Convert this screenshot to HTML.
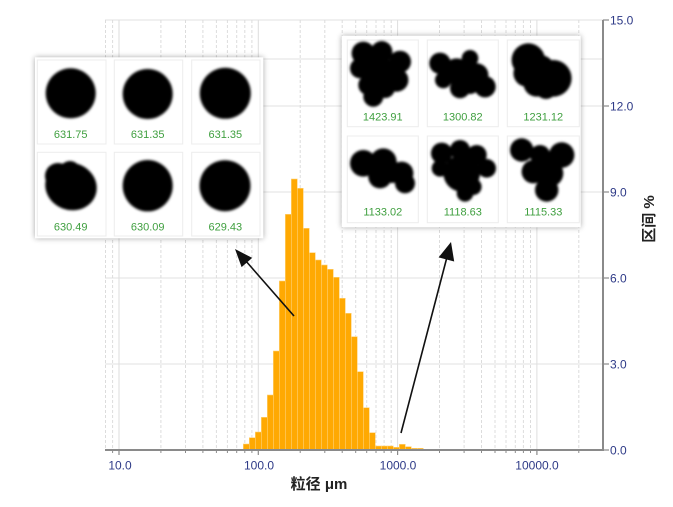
<!DOCTYPE html>
<html><head><meta charset="utf-8"><style>
html,body{margin:0;padding:0;background:#fff;}
svg{display:block;}
text{font-family:"Liberation Sans","Noto Sans CJK SC",sans-serif;}
</style></head><body>
<svg width="673" height="507" viewBox="0 0 673 507" xmlns="http://www.w3.org/2000/svg">
<defs>
<filter id="bl" x="-20%" y="-20%" width="140%" height="140%"><feGaussianBlur stdDeviation="1.2"/></filter>
<filter id="sh" x="-10%" y="-10%" width="120%" height="120%"><feGaussianBlur stdDeviation="3"/></filter>
</defs>
<rect width="673" height="507" fill="#fff"/>
<!-- horizontal grid -->
<g stroke="#e2e2e2" stroke-width="1">
<line x1="105" y1="20" x2="603" y2="20"/>
<line x1="105" y1="59" x2="603" y2="59"/>
<line x1="105" y1="106" x2="603" y2="106"/>
<line x1="105" y1="192" x2="603" y2="192"/>
<line x1="105" y1="278" x2="603" y2="278"/>
<line x1="105" y1="364" x2="603" y2="364"/>
</g>
<!-- vertical dashed minors -->
<g stroke="#dcdcdc" stroke-width="1" stroke-dasharray="3,2">
<line x1="105.5" y1="20" x2="105.5" y2="450"/><line x1="112.6" y1="20" x2="112.6" y2="450"/>
<line x1="160.9" y1="20" x2="160.9" y2="450"/><line x1="185.5" y1="20" x2="185.5" y2="450"/><line x1="202.9" y1="20" x2="202.9" y2="450"/><line x1="216.4" y1="20" x2="216.4" y2="450"/><line x1="227.4" y1="20" x2="227.4" y2="450"/><line x1="236.7" y1="20" x2="236.7" y2="450"/><line x1="244.8" y1="20" x2="244.8" y2="450"/><line x1="251.9" y1="20" x2="251.9" y2="450"/>
<line x1="300.2" y1="20" x2="300.2" y2="450"/><line x1="324.8" y1="20" x2="324.8" y2="450"/><line x1="342.2" y1="20" x2="342.2" y2="450"/><line x1="355.7" y1="20" x2="355.7" y2="450"/><line x1="366.7" y1="20" x2="366.7" y2="450"/><line x1="376.0" y1="20" x2="376.0" y2="450"/><line x1="384.1" y1="20" x2="384.1" y2="450"/><line x1="391.2" y1="20" x2="391.2" y2="450"/>
<line x1="439.5" y1="20" x2="439.5" y2="450"/><line x1="464.1" y1="20" x2="464.1" y2="450"/><line x1="481.5" y1="20" x2="481.5" y2="450"/><line x1="495.0" y1="20" x2="495.0" y2="450"/><line x1="506.0" y1="20" x2="506.0" y2="450"/><line x1="515.3" y1="20" x2="515.3" y2="450"/><line x1="523.4" y1="20" x2="523.4" y2="450"/><line x1="530.5" y1="20" x2="530.5" y2="450"/>
<line x1="578.8" y1="20" x2="578.8" y2="450"/>
</g>
<g stroke="#dedede" stroke-width="1">
<line x1="119" y1="20" x2="119" y2="450"/><line x1="258.3" y1="20" x2="258.3" y2="450"/><line x1="397.6" y1="20" x2="397.6" y2="450"/><line x1="536.9" y1="20" x2="536.9" y2="450"/>
</g>
<!-- bars -->
<g fill="#FFA902" stroke="#FFD27a" stroke-width="0.6">
<rect x="243.3" y="444" width="6" height="6"/>
<rect x="249.3" y="437.7" width="6" height="12.3"/>
<rect x="255.3" y="432" width="6" height="18"/>
<rect x="261.3" y="417.3" width="6" height="32.7"/>
<rect x="267.3" y="395" width="6" height="55"/>
<rect x="273.3" y="351" width="6" height="99"/>
<rect x="279.3" y="281" width="6" height="169"/>
<rect x="285.3" y="214.3" width="6" height="235.7"/>
<rect x="291.3" y="179" width="6" height="271"/>
<rect x="297.3" y="188.3" width="6" height="261.7"/>
<rect x="303.3" y="228.3" width="6" height="221.7"/>
<rect x="309.3" y="252.7" width="6" height="197.3"/>
<rect x="315.3" y="260" width="6" height="190"/>
<rect x="321.3" y="265" width="6" height="185"/>
<rect x="327.3" y="269.3" width="6" height="180.7"/>
<rect x="333.3" y="277.3" width="6" height="172.7"/>
<rect x="339.3" y="298.3" width="6" height="151.7"/>
<rect x="345.3" y="313.3" width="6" height="136.7"/>
<rect x="351.3" y="336.7" width="6" height="113.3"/>
<rect x="357.3" y="371.7" width="6" height="78.3"/>
<rect x="363.3" y="407.7" width="6" height="42.3"/>
<rect x="369.3" y="432.7" width="6" height="17.3"/>
<rect x="375.3" y="446" width="6" height="4"/>
<rect x="381.3" y="446" width="6" height="4"/>
<rect x="387.3" y="446" width="6" height="4"/>
<rect x="393.3" y="447.3" width="6" height="2.7"/>
<rect x="399.3" y="444.3" width="6" height="5.7"/>
<rect x="405.3" y="446.7" width="6" height="3.3"/>
<rect x="411.3" y="448.3" width="6" height="1.7"/>
<rect x="417.3" y="448.3" width="6" height="1.7"/>
</g>
<!-- axes -->
<line x1="105" y1="450" x2="603" y2="450" stroke="#8a8a8a" stroke-width="2"/>
<line x1="603" y1="20" x2="603" y2="451" stroke="#8a8a8a" stroke-width="2"/>
<g stroke="#8a8a8a" stroke-width="1.2">
<line x1="603" y1="20" x2="609" y2="20"/><line x1="603" y1="106" x2="609" y2="106"/><line x1="603" y1="192" x2="609" y2="192"/><line x1="603" y1="278" x2="609" y2="278"/><line x1="603" y1="364" x2="609" y2="364"/><line x1="603" y1="450" x2="609" y2="450"/>
<line x1="119" y1="450" x2="119" y2="455"/><line x1="258.3" y1="450" x2="258.3" y2="455"/><line x1="397.6" y1="450" x2="397.6" y2="455"/><line x1="536.9" y1="450" x2="536.9" y2="455"/>
</g>
<g stroke="#8a8a8a" stroke-width="1">
<line x1="112.6" y1="450" x2="112.6" y2="453"/>
<line x1="160.9" y1="450" x2="160.9" y2="453"/><line x1="185.5" y1="450" x2="185.5" y2="453"/><line x1="202.9" y1="450" x2="202.9" y2="453"/><line x1="216.4" y1="450" x2="216.4" y2="453"/><line x1="227.4" y1="450" x2="227.4" y2="453"/><line x1="236.7" y1="450" x2="236.7" y2="453"/><line x1="244.8" y1="450" x2="244.8" y2="453"/><line x1="251.9" y1="450" x2="251.9" y2="453"/>
<line x1="300.2" y1="450" x2="300.2" y2="453"/><line x1="324.8" y1="450" x2="324.8" y2="453"/><line x1="342.2" y1="450" x2="342.2" y2="453"/><line x1="355.7" y1="450" x2="355.7" y2="453"/><line x1="366.7" y1="450" x2="366.7" y2="453"/><line x1="376.0" y1="450" x2="376.0" y2="453"/><line x1="384.1" y1="450" x2="384.1" y2="453"/><line x1="391.2" y1="450" x2="391.2" y2="453"/>
<line x1="439.5" y1="450" x2="439.5" y2="453"/><line x1="464.1" y1="450" x2="464.1" y2="453"/><line x1="481.5" y1="450" x2="481.5" y2="453"/><line x1="495.0" y1="450" x2="495.0" y2="453"/><line x1="506.0" y1="450" x2="506.0" y2="453"/><line x1="515.3" y1="450" x2="515.3" y2="453"/><line x1="523.4" y1="450" x2="523.4" y2="453"/><line x1="530.5" y1="450" x2="530.5" y2="453"/>
<line x1="578.8" y1="450" x2="578.8" y2="453"/>
</g>
<!-- tick labels -->
<g fill="#2e3a87" font-size="12">
<text x="610" y="24.5">15.0</text>
<text x="610" y="110.5">12.0</text>
<text x="610" y="196.5">9.0</text>
<text x="610" y="282.5">6.0</text>
<text x="610" y="368.5">3.0</text>
<text x="610" y="454.5">0.0</text>
</g>
<g fill="#2e3a87" font-size="12" text-anchor="middle">
<text x="120" y="469.5">10.0</text>
<text x="259" y="469.5">100.0</text>
<text x="398" y="469.5">1000.0</text>
<text x="537" y="469.5">10000.0</text>
</g>
<text x="319" y="489" font-size="15" font-weight="bold" fill="#222" text-anchor="middle">粒径 μm</text>
<text transform="translate(654,219) rotate(-90)" font-size="15" font-weight="bold" fill="#222" text-anchor="middle">区间 %</text>
<!-- arrows -->
<g stroke="#111" stroke-width="1.6">
<line x1="294" y1="316" x2="245" y2="260"/>
<line x1="401" y1="433" x2="447" y2="257"/>
</g>
<g fill="#111">
<polygon points="235,249 252.2,257.9 241.6,267.1"/>
<polygon points="451,242 454.2,261.5 438.6,257.4"/>
</g>
<!-- inset 1 -->
<rect x="35" y="57.3" width="228.3" height="181" fill="#000" opacity="0.35" filter="url(#sh)"/>
<rect x="35" y="57.3" width="228.3" height="181" fill="#fff"/>
<g fill="#fff" stroke="#ececec" stroke-width="1">
<rect x="37.3" y="60" width="68.7" height="84"/><rect x="114.3" y="60" width="68.4" height="84"/><rect x="191.7" y="60" width="68.3" height="84"/>
<rect x="37.3" y="152.3" width="68.7" height="83.7"/><rect x="114.3" y="152.3" width="68.4" height="83.7"/><rect x="191.7" y="152.3" width="68.3" height="83.7"/>
</g>
<g fill="#000" filter="url(#bl)">
<circle cx="70.7" cy="93.3" r="25"/>
<circle cx="147.7" cy="94" r="25"/>
<circle cx="225.3" cy="93.3" r="25.5"/>
<ellipse cx="71" cy="186.5" rx="26" ry="23.5" transform="rotate(20 71 186.5)"/><circle cx="58" cy="176" r="13"/><circle cx="70" cy="171" r="10"/>
<ellipse cx="147.7" cy="185.7" rx="25" ry="25.7"/>
<circle cx="225" cy="185.7" r="25.5"/>
</g>
<g fill="#3f9f3f" font-size="11" text-anchor="middle">
<text x="70.7" y="138">631.75</text><text x="147.7" y="138">631.35</text><text x="225.3" y="138">631.35</text>
<text x="70.7" y="230.5">630.49</text><text x="147.7" y="230.5">630.09</text><text x="225.3" y="230.5">629.43</text>
</g>
<!-- inset 2 -->
<rect x="341.7" y="35.7" width="239" height="191.6" fill="#000" opacity="0.35" filter="url(#sh)"/>
<rect x="341.7" y="35.7" width="239" height="191.6" fill="#fff"/>
<g fill="#fff" stroke="#ececec" stroke-width="1">
<rect x="347.3" y="40" width="71" height="86.7"/><rect x="427.3" y="40" width="71" height="86.7"/><rect x="507.3" y="40" width="72" height="86.7"/>
<rect x="347.3" y="136" width="71" height="86.7"/><rect x="427.3" y="136" width="71" height="86.7"/><rect x="507.3" y="136" width="72" height="86.7"/>
</g>
<g fill="#000" filter="url(#bl)">
<!-- 1423.91 -->
<circle cx="363.3" cy="53.3" r="11.7"/><circle cx="381.7" cy="51.7" r="10.7"/><circle cx="400" cy="61.7" r="11"/><circle cx="360" cy="68.3" r="10"/><circle cx="380" cy="71.7" r="15"/><circle cx="396.7" cy="80" r="11.7"/><circle cx="373.3" cy="96.7" r="10"/><circle cx="368.3" cy="85" r="10"/><circle cx="385" cy="88" r="10"/>
<!-- 1300.82 -->
<circle cx="440" cy="63.3" r="10.7"/><circle cx="470" cy="58.3" r="8.3"/><circle cx="456.7" cy="71.7" r="13.3"/><circle cx="476.7" cy="75" r="11.7"/><circle cx="485" cy="86.7" r="10.7"/><circle cx="460" cy="88.3" r="10"/><circle cx="443.3" cy="80" r="8.3"/><circle cx="470" cy="84" r="10"/>
<!-- 1231.12 -->
<circle cx="528.3" cy="60" r="16.7"/><circle cx="553.3" cy="78.3" r="18.3"/><circle cx="536.7" cy="83.3" r="13.3"/><circle cx="526.7" cy="73.3" r="13.3"/><circle cx="540" cy="70" r="15"/><circle cx="546" cy="88" r="11"/>
<!-- 1133.02 -->
<circle cx="363.3" cy="163.3" r="13.3"/><circle cx="383.3" cy="161.7" r="13.3"/><circle cx="401.7" cy="173.3" r="11.7"/><circle cx="405" cy="183.3" r="10"/><circle cx="380" cy="176.7" r="11.7"/><circle cx="392" cy="172" r="11"/>
<!-- 1118.63 -->
<circle cx="441.7" cy="153.3" r="10.7"/><circle cx="460" cy="150" r="10"/><circle cx="476.7" cy="155" r="10"/><circle cx="486.7" cy="168.3" r="9.3"/><circle cx="461.7" cy="173.3" r="18.3"/><circle cx="440" cy="168.3" r="8.3"/><circle cx="465" cy="193.3" r="8.3"/><circle cx="473.3" cy="186.7" r="8.3"/>
<!-- 1115.33 -->
<circle cx="521.7" cy="150" r="11.7"/><circle cx="540" cy="155" r="10"/><circle cx="561.7" cy="155" r="12.7"/><circle cx="533.3" cy="171.7" r="11.7"/><circle cx="550" cy="173.3" r="13.3"/><circle cx="546.7" cy="190" r="11.7"/><circle cx="545" cy="162" r="10"/>
</g>
<g fill="#3f9f3f" font-size="11" text-anchor="middle">
<text x="382.8" y="120.5">1423.91</text><text x="462.8" y="120.5">1300.82</text><text x="543.3" y="120.5">1231.12</text>
<text x="382.8" y="215.5">1133.02</text><text x="462.8" y="215.5">1118.63</text><text x="543.3" y="215.5">1115.33</text>
</g>
</svg>
</body></html>
